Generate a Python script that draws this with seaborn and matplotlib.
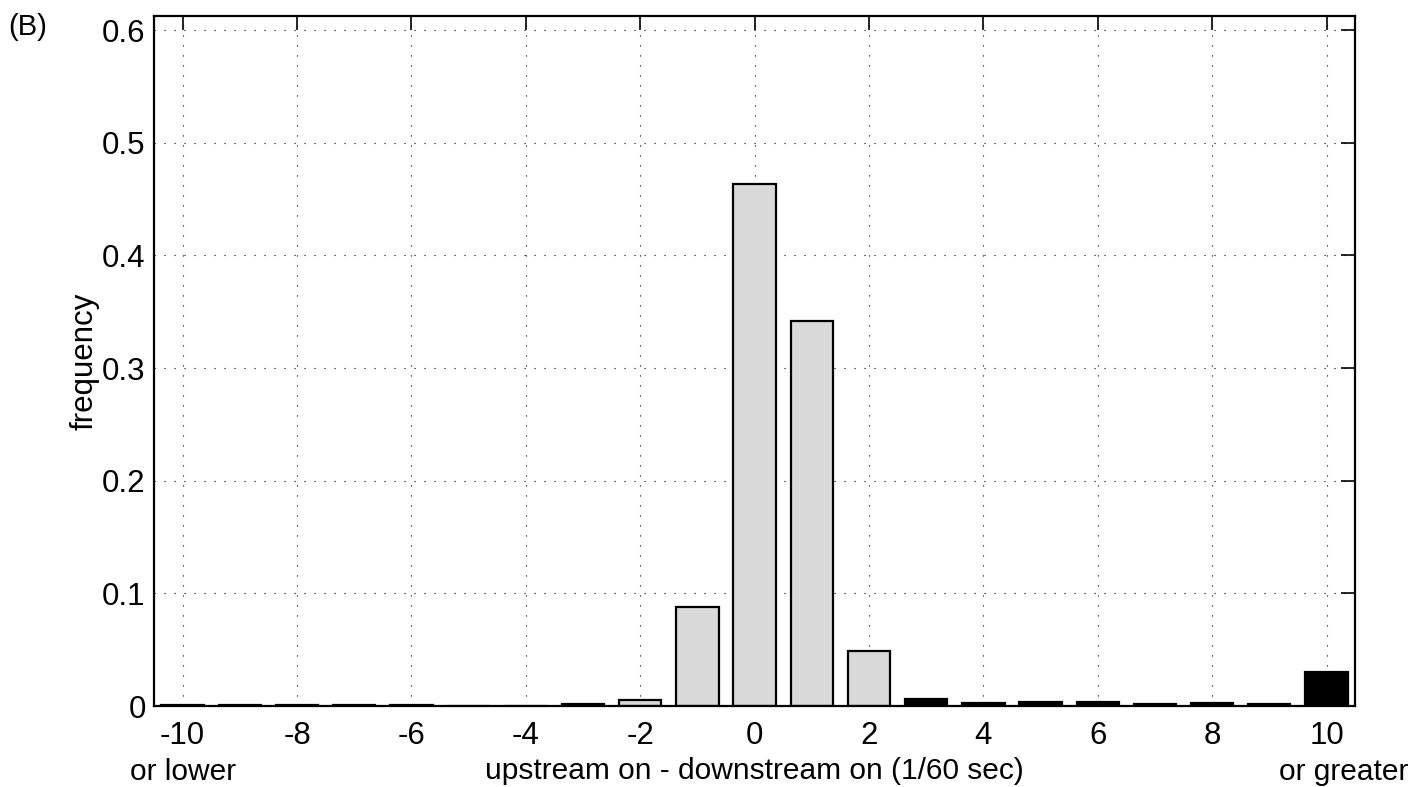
import matplotlib
matplotlib.use("Agg")
import matplotlib.pyplot as plt
import seaborn as sns
import pandas as pd

offsets = list(range(-10, 11))
frequency = [0.001, 0.001, 0.001, 0.001, 0.001, 0.0, 0.0, 0.0015, 0.005, 0.088,
             0.463, 0.3415, 0.049, 0.0065, 0.003, 0.004, 0.0035, 0.0015, 0.0025, 0.0015, 0.030]
group = ["outer" if abs(o) >= 3 else "inner" for o in offsets]
xtick_values = [-10, -8, -6, -4, -2, 0, 2, 4, 6, 8, 10]
ytick_values = [0, 0.1, 0.2, 0.3, 0.4, 0.5, 0.6]

df = pd.DataFrame({"offset": offsets, "frequency": frequency, "group": group})

sns.set_theme(style="white")
plt.rcParams["font.family"] = ["Liberation Sans", "DejaVu Sans"]
plt.rcParams["text.color"] = "black"
plt.rcParams["axes.labelcolor"] = "black"

fig = plt.figure(figsize=(14.16, 7.87), dpi=100)
ax = fig.add_axes([0.1088, 0.1029, 0.8482, 0.8768])

sns.barplot(data=df, x="offset", y="frequency", hue="group", order=offsets,
            palette={"outer": "black", "inner": "#d9d9d9"}, dodge=False,
            width=0.74, edgecolor="black", linewidth=1.6, legend=False, ax=ax)

ax.set_xlim(-0.5, 20.5)
ax.set_ylim(0, 0.6125)
ax.set_xticks([offsets.index(v) for v in xtick_values])
ax.set_xticklabels([str(v) for v in xtick_values])
ax.set_yticks(ytick_values)
ax.set_yticklabels(["0"] + [f"{v:.1f}" for v in ytick_values[1:]])

ax.tick_params(axis="both", direction="in", length=10, width=1.2, labelsize=22.5,
               top=True, right=True, colors="black", labelcolor="black")
ax.tick_params(axis="x", pad=11)
ax.tick_params(axis="y", pad=6)
for s in ax.spines.values():
    s.set_visible(True)
    s.set_color("black")
    s.set_linewidth(1.6)

ax.grid(True, color="black", linestyle=(0, (1, 8)), linewidth=0.8)
ax.set_axisbelow(True)

ax.set_xlabel("upstream on - downstream on (1/60 sec)", fontsize=21.5, labelpad=4)
ax.set_ylabel("frequency", fontsize=22.5, labelpad=2)

ax.text(offsets.index(-10), -0.059, "or lower", ha="center", va="center", fontsize=21.5,
        transform=ax.transData, clip_on=False)
ax.text(offsets.index(10) + 0.3, -0.059, "or greater", ha="center", va="center", fontsize=21.5,
        transform=ax.transData, clip_on=False)

fig.text(0.006, 0.966, "(B)", fontsize=21, ha="left", va="center")

fig.savefig("out.png", dpi=100)
